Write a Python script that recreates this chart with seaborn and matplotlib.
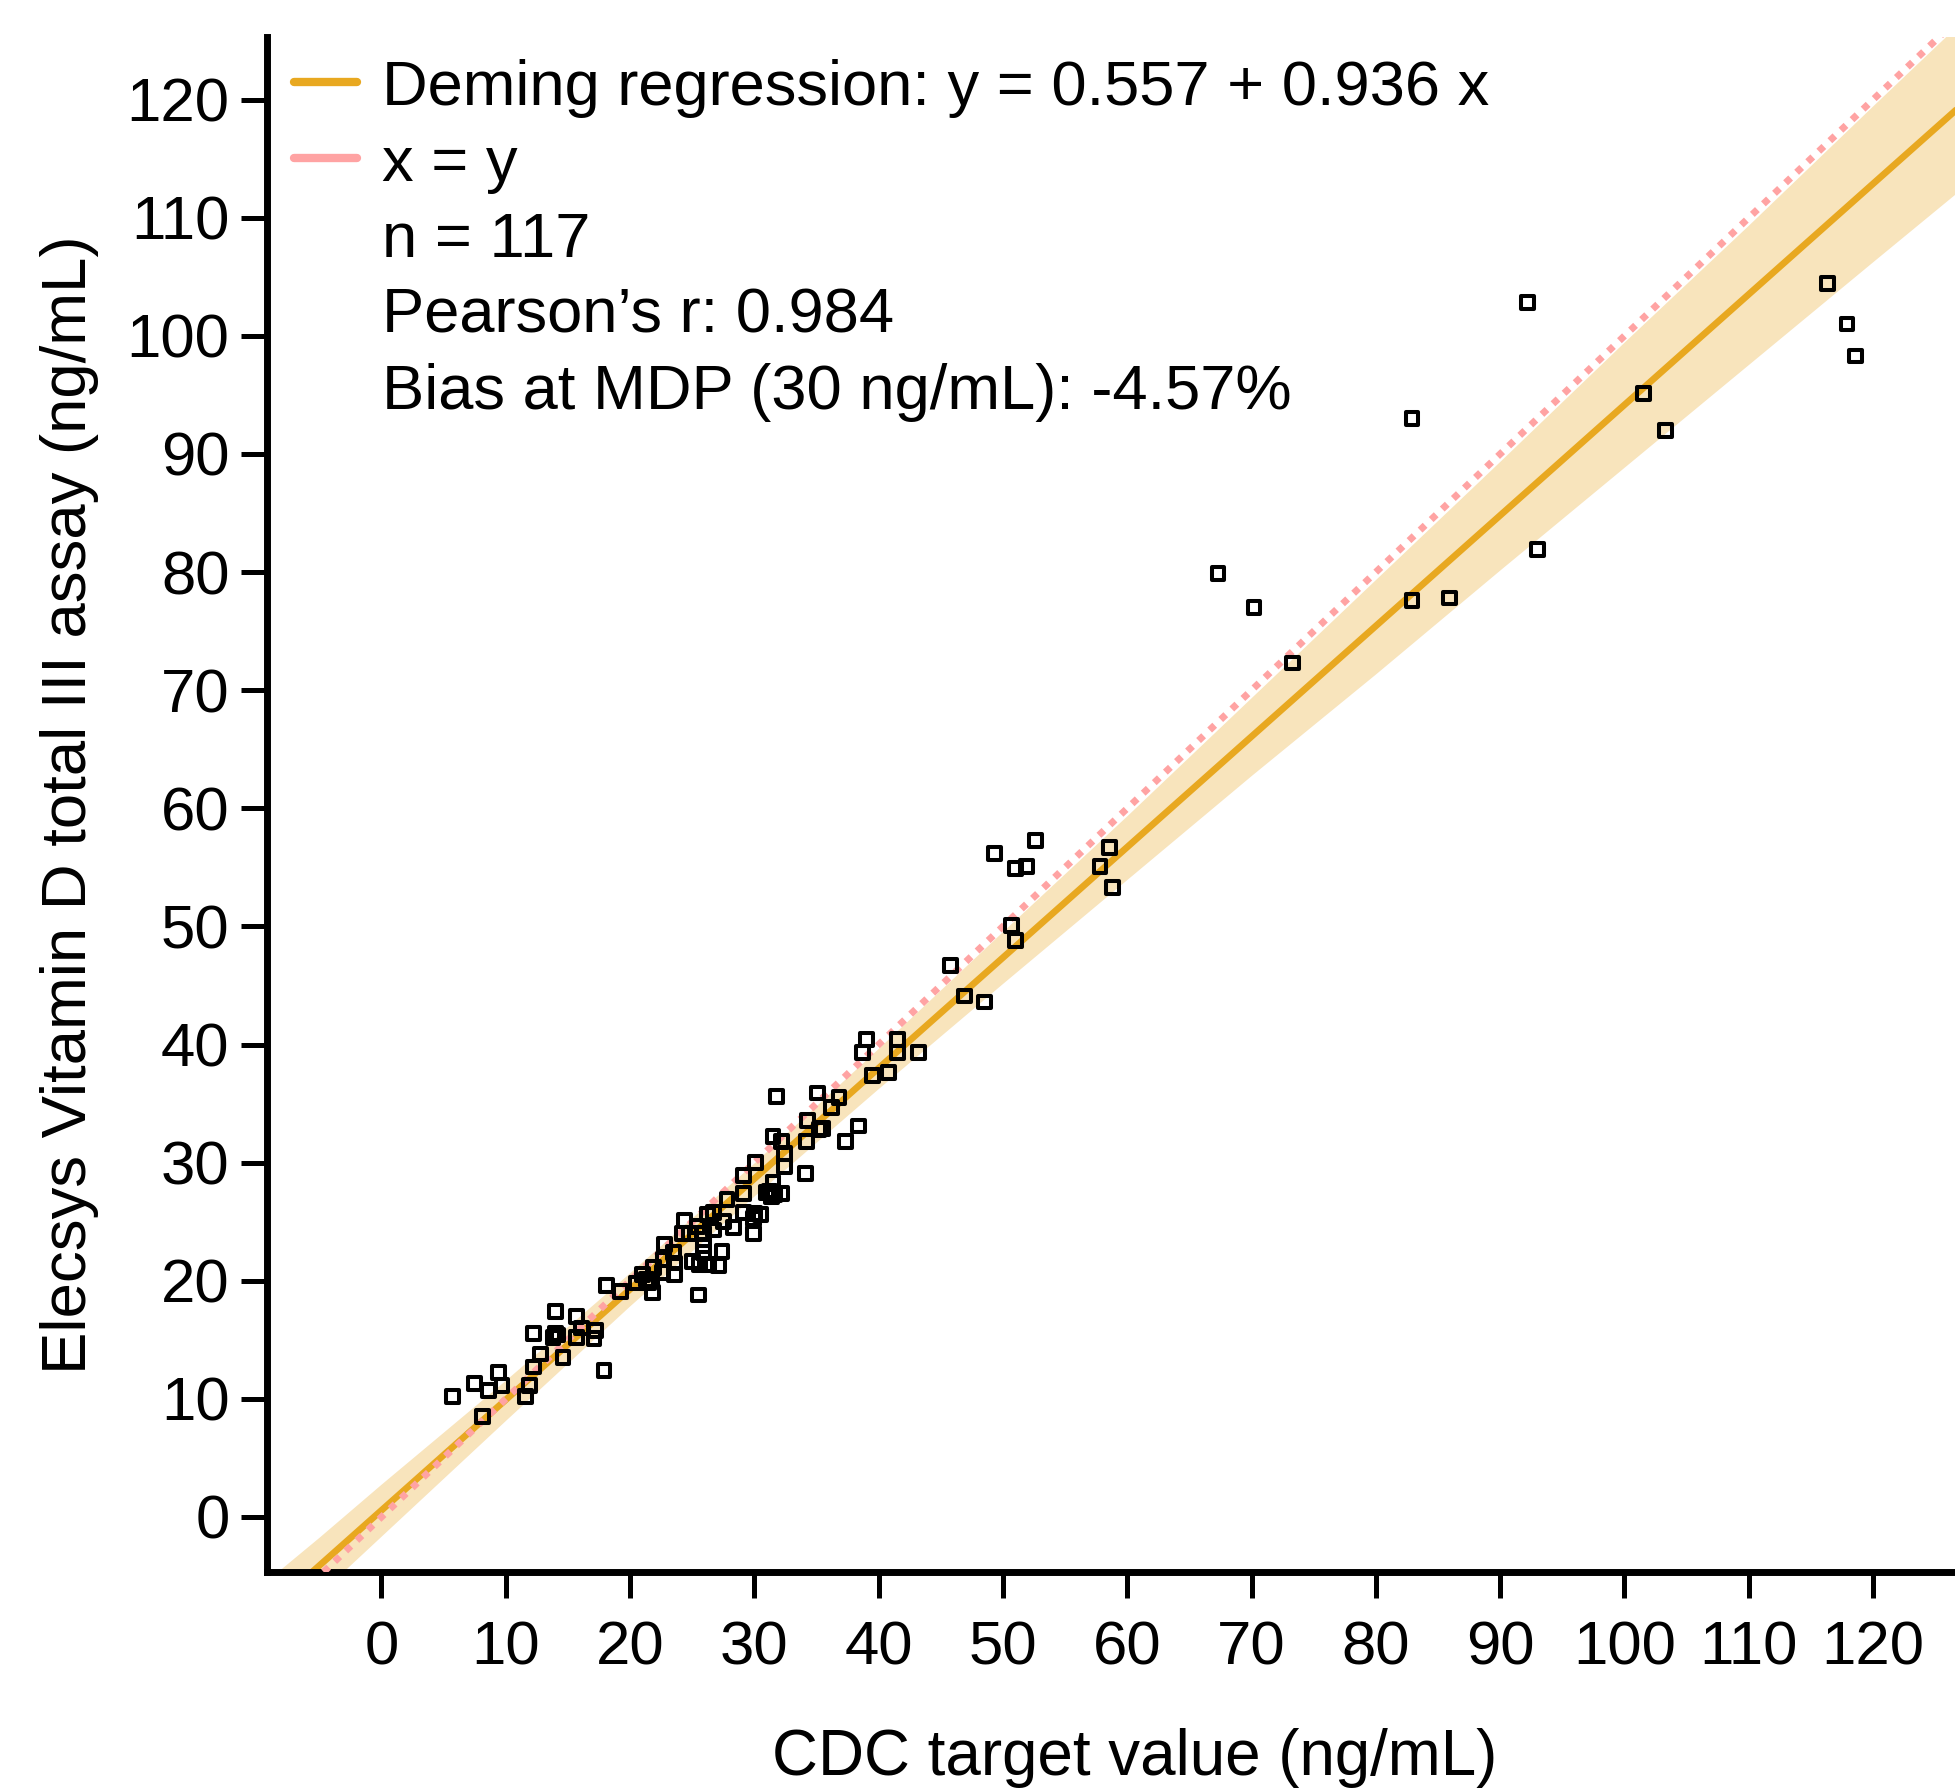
import matplotlib
matplotlib.use("Agg")
import pandas as pd
import seaborn as sns
import matplotlib.pyplot as plt
from matplotlib.lines import Line2D

sns.set_style("white")
plt.rcParams['font.family'] = ['Liberation Sans', 'DejaVu Sans']

# CDC target value (x) vs Elecsys assay result (y)
cdc_x = [116.3, 117.9, 118.6, 101.5, 103.3, 92.2, 93.0, 82.9, 82.9, 85.9,
         67.3, 70.2, 73.3, 58.6, 57.8, 58.8, 52.6, 49.3, 51.0, 51.9,
         50.7, 51.0, 45.8, 46.9, 48.5, 43.2, 39.0, 38.7, 41.5, 41.5,
         39.5, 40.8, 31.8, 35.1, 36.8, 36.2, 34.3, 35.5, 35.2, 38.4,
         37.3, 34.2, 31.5, 32.2, 32.4, 32.4, 30.1, 29.1, 34.1, 29.1,
         31.5, 31.0, 31.4, 31.2, 32.2, 27.8, 26.7, 26.2, 29.1, 30.0,
         29.9, 24.4, 27.5, 28.3, 26.7, 25.4, 24.8, 25.9, 29.9, 22.8,
         25.9, 23.5, 27.4, 25.9, 22.7, 23.6, 21.9, 23.6, 22.6, 21.0,
         20.5, 21.8, 21.5, 21.3, 19.2, 18.1, 25.5, 14.0, 15.7, 12.2,
         14.0, 13.8, 16.1, 15.7, 17.2, 17.1, 14.6, 12.8, 17.9, 12.2,
         9.4, 7.5, 8.6, 9.7, 11.9, 11.6, 5.7, 8.1, 25.0, 27.1,
         25.6, 26.3, 21.7, 31.6, 24.2, 30.5, 14.2]
elecsys_y = [104.4, 101.0, 98.3, 95.1, 92.0, 102.8, 81.9, 93.0, 77.6, 77.8,
             79.9, 77.0, 72.3, 56.7, 55.1, 53.3, 57.3, 56.2, 54.9, 55.1,
             50.1, 48.8, 46.7, 44.1, 43.6, 39.3, 40.4, 39.3, 40.4, 39.3,
             37.4, 37.6, 35.6, 35.9, 35.5, 34.7, 33.6, 32.9, 32.8, 33.1,
             31.8, 31.8, 32.2, 31.8, 30.8, 29.7, 30.0, 28.9, 29.1, 27.4,
             28.3, 27.5, 27.1, 27.6, 27.4, 26.9, 25.8, 25.6, 25.8, 25.7,
             25.3, 25.1, 25.0, 24.5, 24.3, 24.6, 24.0, 24.0, 24.0, 23.1,
             23.0, 22.4, 22.5, 22.4, 21.8, 21.5, 21.1, 20.5, 20.7, 20.5,
             19.8, 19.0, 19.8, 20.1, 19.1, 19.6, 18.8, 17.4, 17.0, 15.5,
             15.5, 15.2, 16.0, 15.2, 15.8, 15.1, 13.5, 13.8, 12.4, 12.7,
             12.2, 11.3, 10.7, 11.1, 11.1, 10.2, 10.2, 8.5, 21.6, 21.3,
             21.4, 21.4, 20.0, 27.3, 24.0, 25.6, 15.4]

# Deming fit line and its confidence band
fit_x = [-9.3, -5, 0, 10, 20, 30, 40, 50, 60, 70, 80, 90, 100, 110, 120, 126.7]
fit_y = [-8.15, -4.12, 0.56, 9.92, 19.28, 28.64, 38.0, 47.36, 56.72, 66.08,
         75.44, 84.8, 94.16, 103.52, 112.88, 119.15]
band_lo = [-10.85, -6.5, -1.6, 8.2, 17.9, 27.2, 36.3, 45.2, 54.0, 62.8,
           71.4, 80.2, 88.9, 97.6, 106.3, 112.1]
band_hi = [-5.45, -1.7, 2.8, 11.6, 20.7, 30.0, 39.7, 49.6, 59.4, 69.4,
           79.4, 89.4, 99.5, 109.4, 119.5, 126.2]
ident = [-10, 130]

ticks = list(range(0, 121, 10))
legend_labels = ["Deming regression: y = 0.557 + 0.936 x", "x = y", "n = 117",
                 "Pearson\u2019s r: 0.984", "Bias at MDP (30 ng/mL): -4.57%"]

orange = "#E8A820"
band_col = "#F8E4BC"
pink = "#FFA3A3"

fig = plt.figure(figsize=(19.56, 17.89), dpi=100)
ax = fig.add_axes([0.1365, 0.1213, 0.8635, 0.858])

ax.fill_between(fit_x, band_lo, band_hi, color=band_col, linewidth=0, zorder=1)
sns.lineplot(x=fit_x, y=fit_y, color=orange, linewidth=4.8, ax=ax, zorder=2)
ax.plot(ident, ident, color=pink, linewidth=5, linestyle=(0, (1, 1.2)), zorder=3)

pts = pd.DataFrame({"cdc": cdc_x, "elecsys": elecsys_y})
sns.scatterplot(data=pts, x="cdc", y="elecsys", marker="s", s=85,
                facecolor="none", edgecolor="black", linewidth=2.9, ax=ax, zorder=4)

ax.set_xlim(-9.21, 126.67)
ax.set_ylim(-4.66, 125.3)
ax.set_xticks(ticks)
ax.set_yticks(ticks)
for s in ["top", "right"]:
    ax.spines[s].set_visible(False)
for s in ["left", "bottom"]:
    ax.spines[s].set_linewidth(5)
    ax.spines[s].set_color("black")
ax.tick_params(axis="both", direction="out", length=19, width=3.6, labelsize=44.5,
               left=True, bottom=True, colors="black")
ax.tick_params(axis="x", pad=16)
ax.tick_params(axis="y", pad=8)

ax.set_xlabel("CDC target value (ng/mL)", fontsize=45.8, labelpad=36, color="black")
ax.xaxis.label.set_x(0.514)
ax.set_ylabel("Elecsys Vitamin D total III assay (ng/mL)", fontsize=45.7,
              labelpad=20, color="black")

handles = [Line2D([], [], color=orange, linewidth=6),
           Line2D([], [], color=pink, linewidth=6),
           Line2D([], [], color="none"),
           Line2D([], [], color="none"),
           Line2D([], [], color="none")]
leg = ax.legend(handles, legend_labels, loc="upper left", bbox_to_anchor=(0.016, 0.986),
                frameon=False, fontsize=45.5, handlelength=1.0, handletextpad=0.4,
                labelspacing=0.27, borderpad=0, borderaxespad=0)
for t in leg.get_texts():
    t.set_color("black")

fig.savefig("out.png", dpi=100)
